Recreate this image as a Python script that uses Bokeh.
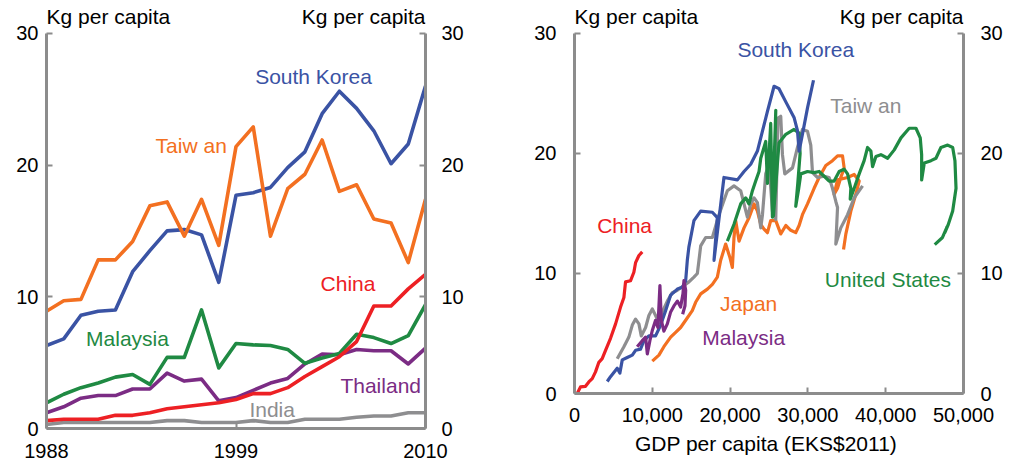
from bokeh.plotting import figure
from bokeh.models import LinearAxis, FixedTicker, NumeralTickFormatter, Label, Range1d
from bokeh.layouts import row
from bokeh.embed import file_html
from bokeh.resources import INLINE

# ---------------- Data: left panel (Kg per capita by year) ----------------
years = list(range(1988, 2011))
south_korea = [6.3, 6.8, 8.6, 8.9, 9.0, 11.9, 13.5, 15.0, 15.1, 14.7, 11.1, 17.7,
               17.9, 18.3, 19.8, 21.0, 23.9, 25.6, 24.3, 22.6, 20.1, 21.6, 26.0]
taiwan = [8.9, 9.7, 9.8, 12.8, 12.8, 14.2, 16.9, 17.2, 14.6, 17.4, 13.9, 21.4,
          22.9, 14.6, 18.2, 19.3, 21.9, 18.0, 18.5, 15.9, 15.6, 12.6, 17.4]
china = [0.6, 0.7, 0.7, 0.7, 1.0, 1.0, 1.2, 1.5, 1.65, 1.8, 1.95, 2.2,
         2.65, 2.65, 3.1, 3.95, 4.7, 5.45, 6.6, 9.3, 9.3, 10.6, 11.7]
malaysia = [1.95, 2.6, 3.1, 3.45, 3.9, 4.1, 3.35, 5.4, 5.4, 9.0, 4.6, 6.45,
            6.35, 6.3, 6.0, 4.95, 5.35, 5.7, 7.15, 6.9, 6.45, 7.05, 9.4]
thailand = [1.2, 1.65, 2.3, 2.5, 2.5, 3.0, 3.0, 4.2, 3.6, 3.75, 2.1, 2.35,
            2.9, 3.45, 3.8, 4.9, 5.65, 5.6, 6.0, 5.9, 5.9, 4.9, 6.1]
india = [0.3, 0.45, 0.45, 0.45, 0.45, 0.45, 0.45, 0.6, 0.6, 0.45, 0.45, 0.45,
         0.6, 0.45, 0.45, 0.7, 0.7, 0.7, 0.85, 0.95, 0.95, 1.2, 1.2]
year_ticks = [1988, 1999, 2010]

# ---------------- Data: right panel (GDP per capita vs Kg per capita) ----------------
china_gdp = [350, 770, 1415, 1840, 2280, 2700, 3130, 3560, 3990, 4630, 5280, 5920,
             6350, 6560, 7210, 7630, 7850, 8280, 8710]
china_kg = [0.0, 0.55, 0.6, 0.96, 1.24, 1.8, 2.6, 2.9, 3.6, 4.6, 5.8, 7.2,
            8.0, 9.3, 9.4, 10.1, 10.9, 11.5, 11.8]

korea_gdp = [4210, 4630, 5490, 5830, 6140, 6780, 7430, 7850, 8490, 8920, 9560, 10420,
             11070, 11710, 12360, 13220, 13860, 14290, 14500, 14700, 15350, 16220,
             17720, 18360, 17930, 19210, 20940, 21790, 22650, 23510, 23940, 24800,
             25650, 26290, 27160, 28220, 28660, 28870, 29300, 29950, 30720]
korea_kg = [1.0, 1.4, 2.1, 1.7, 2.8, 3.0, 3.2, 3.6, 3.7, 4.4, 4.8, 4.8,
            5.7, 6.9, 8.2, 8.7, 8.85, 9.4, 11.1, 12.2, 14.4, 15.2,
            15.1, 14.65, 11.1, 18.0, 17.8, 18.5, 19.1, 20.2, 21.3, 23.5,
            25.6, 25.4, 24.3, 23.0, 21.9, 20.2, 21.6, 23.8, 26.1]

taiwan_gdp = [5490, 6350, 6990, 7430, 7850, 8280, 8580, 9140, 9560, 10000,
              10420, 10850, 11290, 11930, 12570, 13220, 14070, 14710, 15350, 15790,
              16000, 16220, 16860, 17720, 18570, 19650, 20500, 21360, 21790, 22220,
              22650, 23080, 23510, 23940, 24160, 24580, 25010, 25440, 25870, 26160,
              26510, 26730, 27030, 28020, 28660, 29300, 29950, 30370, 30590, 31240,
              32090, 32730, 33160, 33590, 33810, 33590, 34230, 35100, 35950, 37030]
taiwan_kg = [2.9, 3.9, 4.7, 5.7, 6.2, 5.8, 4.8, 5.5, 6.5, 7.05,
             6.5, 5.9, 6.8, 7.7, 8.4, 8.6, 9.0, 9.3, 9.7, 10.0,
             11.1, 12.3, 13.0, 13.0, 14.9, 16.9, 17.3, 16.9, 15.8, 14.7,
             15.8, 16.3, 15.9, 13.8, 14.9, 18.3, 19.1, 15.2, 14.5, 22.95,
             23.1, 19.9, 18.3, 18.8, 20.5, 22.0, 21.85, 20.7, 18.4, 18.0,
             18.1, 18.0, 17.1, 16.0, 15.5, 12.45, 13.8, 14.9, 16.3, 17.3]

japan_gdp = [10000, 10850, 11490, 12360, 13000, 13640, 14290, 15140, 15570, 16220,
             17080, 17720, 18360, 18790, 19430, 19990, 20290, 20500, 20720, 21150,
             21790, 22430, 23080, 23510, 23940, 24360, 24800, 25220, 25870, 26510,
             27160, 27800, 28440, 28870, 29300, 29950, 30800, 31440, 32300, 33160,
             33810, 34450, 34660, 34230, 33810, 33370, 33810, 35100, 35950, 36590,
             36160, 35520, 34880, 34580]
japan_kg = [2.7, 3.2, 3.9, 4.7, 5.1, 5.5, 6.1, 6.9, 7.6, 8.3,
            8.7, 9.1, 9.7, 11.1, 12.45, 11.3, 10.5, 13.0, 14.4, 12.7,
            13.8, 14.65, 15.8, 15.2, 14.1, 13.7, 13.4, 14.4, 14.4, 13.3,
            14.0, 13.6, 13.4, 14.0, 14.9, 15.8, 17.1, 18.0, 19.0, 19.4,
            19.8, 19.8, 18.8, 18.0, 17.1, 16.6, 17.8, 18.0, 18.25, 17.7,
            16.6, 15.2, 13.3, 12.0]

malaysia_gdp = [8060, 8710, 9140, 9360, 9690, 10000, 10420, 10720, 10980, 11160,
                11490, 11930, 12360, 12780, 13220, 13640, 13940, 14070, 14290, 14200, 13900]
malaysia_kg = [3.9, 4.4, 4.7, 3.3, 4.4, 5.25, 6.1, 5.5, 9.0, 6.1,
               5.2, 5.8, 6.8, 7.3, 7.7, 7.2, 8.3, 9.4, 8.6, 7.3, 6.6]

us_gdp = [19650, 20500, 21360, 22010, 22430, 22870, 23290, 23720, 23940, 24580,
          24800, 25220, 25440, 25870, 25570, 26290, 27160, 28220, 28870, 29000,
          28700, 28440, 28800, 29090, 29950, 30800, 31440, 32090, 32730, 33370,
          34020, 34660, 35100, 35520, 35440, 35950, 36590, 37230, 37670, 38100,
          38310, 38740, 39380, 40250, 41100, 41960, 43020, 43890, 44440, 44620,
          44620, 44960, 45820, 46460, 47100, 47970, 48610, 48900, 49040, 48610,
          48000, 47600, 47900, 47300, 46300]
us_kg = [12.7, 14.1, 15.8, 16.3, 15.8, 16.9, 17.7, 18.5, 19.6, 21.0,
         17.5, 22.5, 14.7, 23.6, 14.8, 20.9, 21.6, 22.0, 21.7, 20.0,
         17.5, 15.6, 17.0, 18.3, 18.5, 18.4, 18.5, 18.1, 17.7, 17.7,
         18.5, 18.7, 18.3, 17.1, 16.2, 17.1, 18.3, 19.4, 20.5, 20.2,
         18.9, 19.75, 19.9, 19.6, 20.3, 21.3, 22.1, 22.1, 21.3, 19.9,
         17.8, 19.2, 19.4, 19.6, 20.5, 20.7, 20.5, 19.4, 17.1, 15.2,
         14.0, 13.4, 13.9, 13.0, 12.4]
gdp_ticks = [0, 10000, 20000, 30000, 40000, 50000]
kg_ticks = [0, 10, 20, 30]

# ---------------- Styling ----------------
FONT = "Liberation Sans"
AXIS_GRAY = "#8C8C8C"
BLUE = "#3A53A4"
ORANGE = "#F37021"
RED = "#ED2024"
GREEN = "#1F8A43"
PURPLE = "#7B2C84"
GRAY = "#8E8E90"
LABEL_SIZE = "21px"


def style_axis(ax, ticks, standoff, bounds=None):
    ax.ticker = FixedTicker(ticks=ticks)
    if bounds is not None:
        ax.bounds = bounds
    ax.axis_line_color = AXIS_GRAY
    ax.axis_line_width = 3
    ax.major_tick_line_color = AXIS_GRAY
    ax.major_tick_line_width = 2
    ax.major_tick_in = 6
    ax.major_tick_out = 0
    ax.minor_tick_line_color = None
    ax.major_label_text_font = FONT
    ax.major_label_text_font_size = "20px"
    ax.major_label_text_color = "#000000"
    ax.major_label_standoff = standoff


def base_fig(xr, yr, fw, fh, bl, br, bt, bb):
    p = figure(frame_width=fw, frame_height=fh, min_border_left=bl, min_border_right=br,
               min_border_top=bt, min_border_bottom=bb, x_range=xr, y_range=yr,
               output_backend="svg", toolbar_location=None)
    p.outline_line_color = None
    p.xgrid.grid_line_color = None
    p.ygrid.grid_line_color = None
    p.background_fill_color = "white"
    p.border_fill_color = "white"
    return p


def add_label(p, x, y, text, color, align="center"):
    p.add_layout(Label(x=x, y=y, text=text, text_color=color, text_font=FONT,
                       text_font_size=LABEL_SIZE, text_align=align, text_baseline="middle"))


# ---------------- Left panel ----------------
# frame spans a little above 30 so the unit titles can sit inside it
p1 = base_fig(Range1d(1988, 2010), Range1d(0, 32.11), 379, 423, 46, 75, 5, 38)
style_axis(p1.xaxis[0], year_ticks, 15)
style_axis(p1.yaxis[0], kg_ticks, 8, (0, 30))
r_ax1 = LinearAxis()
style_axis(r_ax1, kg_ticks, 16, (0, 30))
p1.add_layout(r_ax1, "right")

lw1 = 3.6
p1.line(years, india, color=GRAY, line_width=lw1, line_join="round")
p1.line(years, thailand, color=PURPLE, line_width=lw1, line_join="round")
p1.line(years, malaysia, color=GREEN, line_width=lw1, line_join="round")
p1.line(years, china, color=RED, line_width=lw1, line_join="round")
p1.line(years, south_korea, color=BLUE, line_width=lw1, line_join="round")
p1.line(years, taiwan, color=ORANGE, line_width=lw1, line_join="round")

add_label(p1, 1988, 31.28, "Kg per capita", "#000000", "left")
add_label(p1, 2010, 31.28, "Kg per capita", "#000000", "right")
add_label(p1, 2003.5, 26.75, "South Korea", BLUE)
add_label(p1, 1996.4, 21.5, "Taiw an", ORANGE)
add_label(p1, 2005.5, 11.0, "China", RED)
add_label(p1, 1992.7, 6.86, "Malaysia", GREEN)
add_label(p1, 2007.4, 3.24, "Thailand", PURPLE)
add_label(p1, 2001.1, 1.43, "India", GRAY)

# ---------------- Right panel ----------------
p2 = base_fig(Range1d(0, 50000), Range1d(0, 32.33), 389, 388, 74, 49, 5, 73)
style_axis(p2.xaxis[0], gdp_ticks, 14)
p2.xaxis[0].formatter = NumeralTickFormatter(format="0,0")
p2.xaxis[0].axis_label = "GDP per capita  (EKS$2011)"
p2.xaxis[0].axis_label_text_font = FONT
p2.xaxis[0].axis_label_text_font_size = LABEL_SIZE
p2.xaxis[0].axis_label_text_font_style = "normal"
p2.xaxis[0].axis_label_text_color = "#000000"
p2.xaxis[0].axis_label_standoff = 7
style_axis(p2.yaxis[0], kg_ticks, 18, (0, 30))
r_ax2 = LinearAxis()
style_axis(r_ax2, kg_ticks, 17, (0, 30))
p2.add_layout(r_ax2, "right")

lw2 = 3.2
p2.line(japan_gdp, japan_kg, color=ORANGE, line_width=lw2, line_join="round")
p2.line(taiwan_gdp, taiwan_kg, color=GRAY, line_width=lw2, line_join="round")
p2.line(us_gdp, us_kg, color=GREEN, line_width=lw2, line_join="round")
p2.line(korea_gdp, korea_kg, color=BLUE, line_width=lw2, line_join="round")
p2.line(malaysia_gdp, malaysia_kg, color=PURPLE, line_width=lw2, line_join="round")
p2.line(china_gdp, china_kg, color=RED, line_width=lw2, line_join="round")

add_label(p2, 0, 31.42, "Kg per capita", "#000000", "left")
add_label(p2, 50000, 31.42, "Kg per capita", "#000000", "right")
add_label(p2, 28440, 28.7, "South Korea", BLUE)
add_label(p2, 37450, 24.0, "Taiw an", GRAY)
add_label(p2, 6440, 14.0, "China", RED)
add_label(p2, 40280, 9.5, "United States", GREEN)
add_label(p2, 22390, 7.5, "Japan", ORANGE)
add_label(p2, 21750, 4.7, "Malaysia", PURPLE)

layout = row(p1, p2)
open("out.html", "w").write(file_html(layout, INLINE))
